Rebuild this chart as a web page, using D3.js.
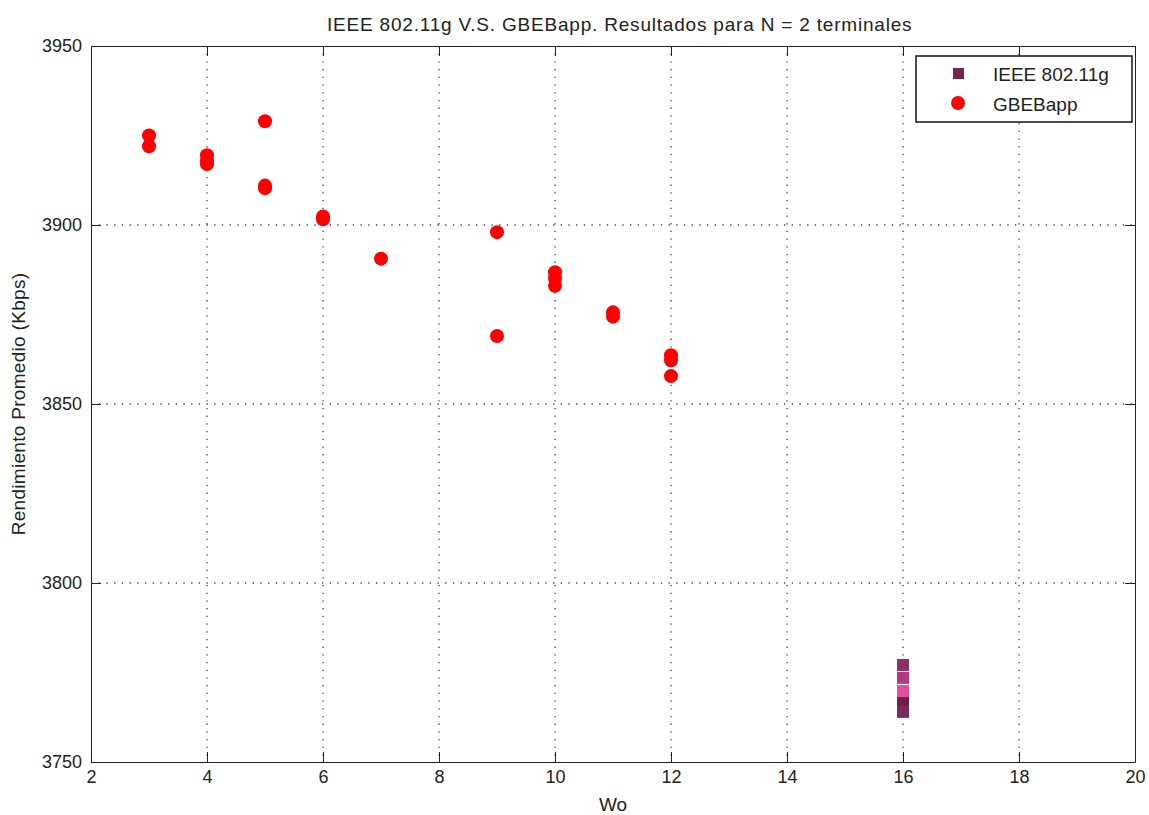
<!DOCTYPE html>
<html>
<head>
<meta charset="utf-8">
<script src="https://cdn.jsdelivr.net/npm/d3@7"></script>
<style>
  body { margin: 0; background: #fff; }
  svg text { font-family: "Liberation Sans", Arial, Helvetica, sans-serif; fill: #222; }
</style>
</head>
<body>
<svg id="chart" width="1149" height="815"></svg>
<script>
// GBEBapp throughput samples per contention window Wo
const gbeWo = [3, 3, 4, 4, 4, 5, 5, 5, 6, 6, 7, 9, 9, 10, 10, 10, 11, 11, 12, 12, 12];
const gbeKbps = [3925, 3922, 3919.5, 3918, 3917, 3929, 3911, 3910.3, 3902.4, 3901.6, 3890.6, 3898, 3869, 3886.8, 3885.2, 3883, 3875.6, 3874.4, 3863.6, 3862.2, 3857.8];

// IEEE 802.11g throughput samples (Wo fixed at 16)
const ieeeWo = [16, 16, 16, 16, 16];
const ieeeKbps = [3777.1, 3773.5, 3766.8, 3769.8, 3764.0];
const ieeeColors = ["#8e2e64", "#b23a80", "#6e1e44", "#e84c9c", "#7a2b5c"];

const xTicks = [2, 4, 6, 8, 10, 12, 14, 16, 18, 20];
const yTicks = [3750, 3800, 3850, 3900, 3950];

const titleText = "IEEE 802.11g V.S. GBEBapp. Resultados para N = 2 terminales";
const xLabel = "Wo";
const yLabel = "Rendimiento Promedio (Kbps)";
const legendNames = ["IEEE 802.11g", "GBEBapp"];

const svg = d3.select("#chart");
const m = { left: 91, top: 46, right: 1135, bottom: 762 };

const x = d3.scaleLinear().domain([2, 20]).range([m.left, m.right]);
const y = d3.scaleLinear().domain([3750, 3950]).range([m.bottom, m.top]);

// dotted grid
const grid = svg.append("g").attr("stroke", "#444").attr("stroke-width", 1.3)
  .attr("stroke-dasharray", "1.3,6.4");
xTicks.slice(1, -1).forEach(t => {
  grid.append("line").attr("x1", x(t)).attr("x2", x(t)).attr("y1", m.top).attr("y2", m.bottom);
});
yTicks.slice(1, -1).forEach(t => {
  grid.append("line").attr("y1", y(t)).attr("y2", y(t)).attr("x1", m.left).attr("x2", m.right);
});

// axes with inward ticks, boxed frame
const tickLen = 10;
const tickFont = 18;
const axB = svg.append("g").attr("transform", `translate(0,${m.bottom})`)
  .call(d3.axisBottom(x).tickValues(xTicks).tickSizeInner(-tickLen).tickSizeOuter(0).tickPadding(18));
const axT = svg.append("g").attr("transform", `translate(0,${m.top})`)
  .call(d3.axisTop(x).tickValues(xTicks).tickSizeInner(-tickLen).tickSizeOuter(0).tickFormat(""));
const axL = svg.append("g").attr("transform", `translate(${m.left},0)`)
  .call(d3.axisLeft(y).tickValues(yTicks).tickFormat(d3.format("d"))
    .tickSizeInner(-tickLen).tickSizeOuter(0).tickPadding(9));
const axR = svg.append("g").attr("transform", `translate(${m.right},0)`)
  .call(d3.axisRight(y).tickValues(yTicks).tickSizeInner(-tickLen).tickSizeOuter(0).tickFormat(""));
[axB, axT, axL, axR].forEach(a => {
  a.selectAll("path").attr("stroke", "#222");
  a.selectAll("line").attr("stroke", "#222");
  a.selectAll("text").attr("font-size", tickFont).attr("fill", "#222")
    .attr("font-family", "'Liberation Sans', Arial, sans-serif");
});
// bottom labels sit just under the frame
axB.selectAll("text").attr("y", 8).attr("dy", "0.71em");

// IEEE 802.11g squares
const sq = 12;
svg.append("g").selectAll("rect").data(ieeeKbps).join("rect")
  .attr("x", (d, i) => x(ieeeWo[i]) - sq / 2)
  .attr("y", d => y(d) - sq / 2)
  .attr("width", sq).attr("height", sq)
  .attr("fill", (d, i) => ieeeColors[i]);

// GBEBapp circles
svg.append("g").selectAll("circle").data(gbeKbps).join("circle")
  .attr("cx", (d, i) => x(gbeWo[i]))
  .attr("cy", d => y(d))
  .attr("r", 7)
  .attr("fill", "#ff0000");

// title and axis labels
svg.append("text").attr("x", 327).attr("y", 31)
  .attr("font-size", 19).attr("letter-spacing", 0.8).text(titleText);
svg.append("text").attr("x", (m.left + m.right) / 2).attr("y", 811)
  .attr("text-anchor", "middle").attr("font-size", 19).text(xLabel);
svg.append("text").attr("transform", `translate(25,${(m.top + m.bottom) / 2}) rotate(-90)`)
  .attr("text-anchor", "middle").attr("font-size", 19).attr("letter-spacing", 0.3).text(yLabel);

// legend
const lg = svg.append("g");
lg.append("rect").attr("x", 916).attr("y", 56).attr("width", 216).attr("height", 66)
  .attr("fill", "#fff").attr("stroke", "#111").attr("stroke-width", 1.5);
lg.append("rect").attr("x", 953).attr("y", 68).attr("width", 11).attr("height", 11).attr("fill", "#7a2452");
lg.append("circle").attr("cx", 958).attr("cy", 103).attr("r", 7).attr("fill", "#ff0000");
legendNames.forEach((n, i) => {
  lg.append("text").attr("x", 993).attr("y", 74 + i * 30).attr("dy", "0.35em")
    .attr("font-size", 19).text(n);
});
</script>
</body>
</html>
